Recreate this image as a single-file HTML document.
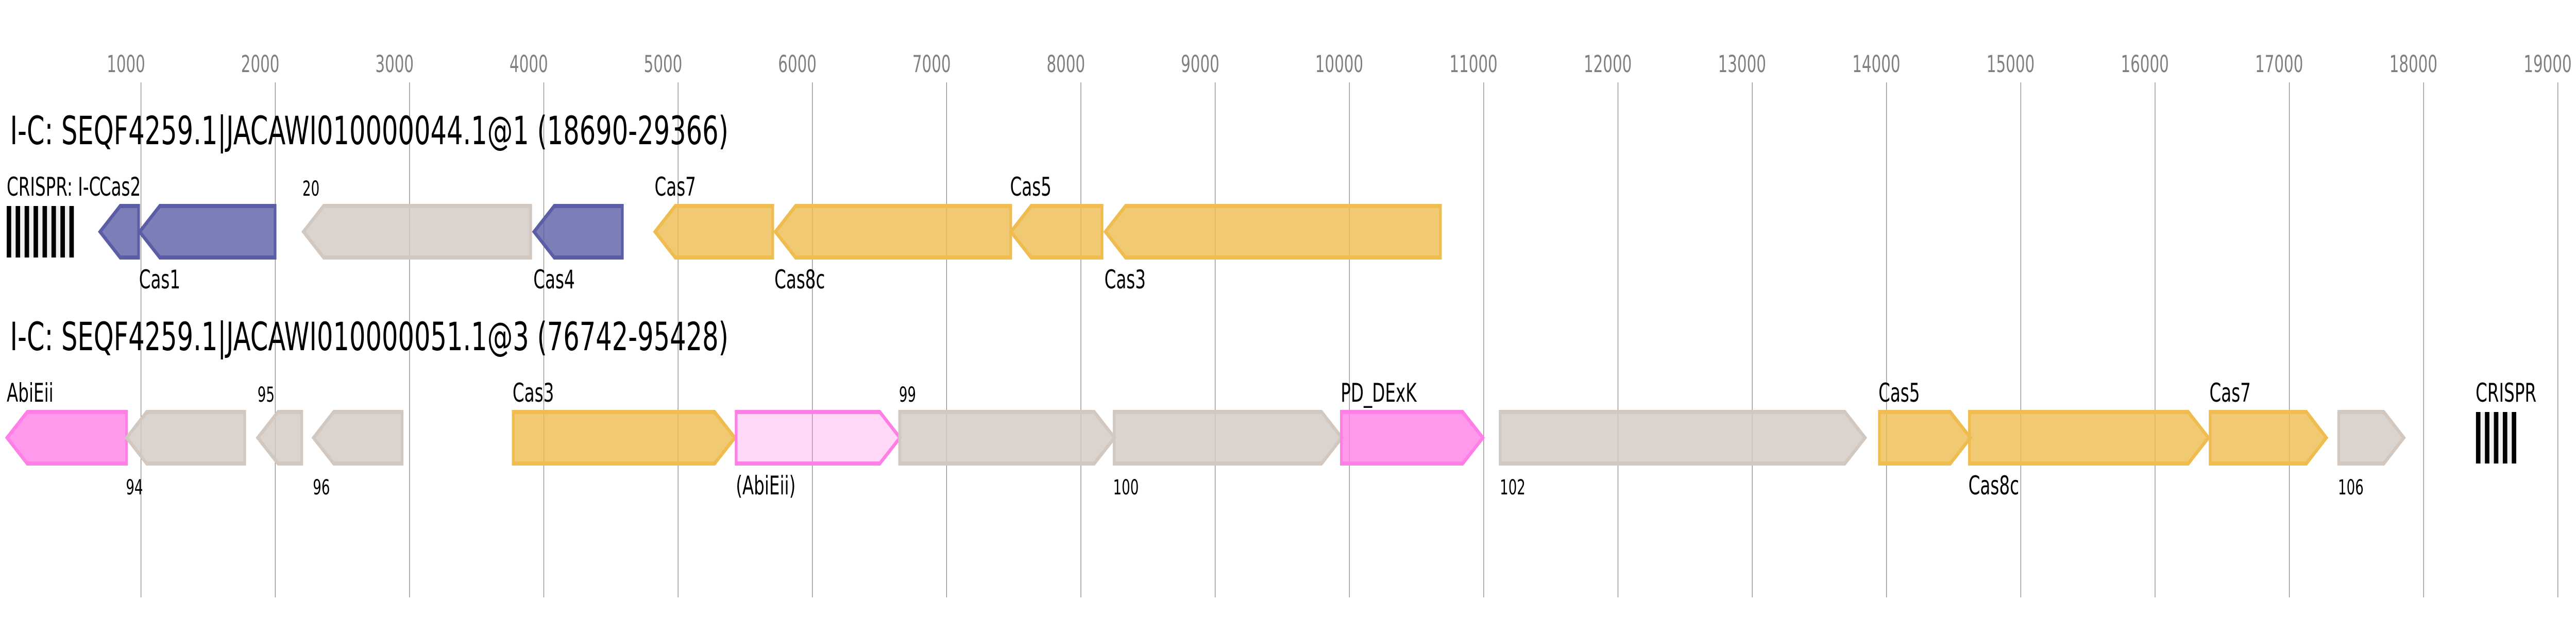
<!DOCTYPE html>
<html>
<head>
<meta charset="utf-8">
<style>
html,body{margin:0;padding:0;background:#fff;width:100%;height:100%;overflow:hidden}
svg{display:block;width:100vw;height:100vh}
text{font-family:"DejaVu Sans",sans-serif;fill:#000}
.tick{font-size:45px;fill:#808080}
.title{font-size:76px}
.lab{font-size:50px}
.num{font-size:40px}
.grid line{stroke:#888;stroke-width:2}
.g{stroke-width:8;fill-opacity:.8}
.b{stroke:#5b5ea6;fill:#5b5ea6}
.y{stroke:#eebc4f;fill:#eebc4f}
.n{stroke:#d2c8c0;fill:#d2c8c0}
.p{stroke:#ff7fe6;fill:#ff7fe6}
.q{stroke:#ff7fe6;fill:#ff7fe6;fill-opacity:.3}
</style>
</head>
<body>
<svg viewBox="0 0 7674 1200" preserveAspectRatio="none" xmlns="http://www.w3.org/2000/svg">
<rect width="7674" height="1200" fill="#fff"/>
<g class="grid">
<line x1="420" x2="420" y1="160" y2="1160"/><line x1="820" x2="820" y1="160" y2="1160"/><line x1="1220" x2="1220" y1="160" y2="1160"/><line x1="1620" x2="1620" y1="160" y2="1160"/><line x1="2020" x2="2020" y1="160" y2="1160"/><line x1="2420" x2="2420" y1="160" y2="1160"/><line x1="2820" x2="2820" y1="160" y2="1160"/><line x1="3220" x2="3220" y1="160" y2="1160"/><line x1="3620" x2="3620" y1="160" y2="1160"/><line x1="4020" x2="4020" y1="160" y2="1160"/><line x1="4420" x2="4420" y1="160" y2="1160"/><line x1="4820" x2="4820" y1="160" y2="1160"/><line x1="5220" x2="5220" y1="160" y2="1160"/><line x1="5620" x2="5620" y1="160" y2="1160"/><line x1="6020" x2="6020" y1="160" y2="1160"/><line x1="6420" x2="6420" y1="160" y2="1160"/><line x1="6820" x2="6820" y1="160" y2="1160"/><line x1="7220" x2="7220" y1="160" y2="1160"/><line x1="7620" x2="7620" y1="160" y2="1160"/>
</g>
<g>
<text class="tick" x="318" y="140">1000</text><text class="tick" x="718" y="140">2000</text><text class="tick" x="1118" y="140">3000</text><text class="tick" x="1518" y="140">4000</text><text class="tick" x="1918" y="140">5000</text><text class="tick" x="2318" y="140">6000</text><text class="tick" x="2718" y="140">7000</text><text class="tick" x="3118" y="140">8000</text><text class="tick" x="3518" y="140">9000</text><text class="tick" x="3918" y="140">10000</text><text class="tick" x="4318" y="140">11000</text><text class="tick" x="4718" y="140">12000</text><text class="tick" x="5118" y="140">13000</text><text class="tick" x="5518" y="140">14000</text><text class="tick" x="5918" y="140">15000</text><text class="tick" x="6318" y="140">16000</text><text class="tick" x="6718" y="140">17000</text><text class="tick" x="7118" y="140">18000</text><text class="tick" x="7518" y="140">19000</text>
</g>
<text class="title" x="30" y="280">I-C: SEQF4259.1|JACAWI010000044.1@1 (18690-29366)</text>
<text class="title" x="30" y="680">I-C: SEQF4259.1|JACAWI010000051.1@3 (76742-95428)</text>

<!-- CRISPR top -->
<rect x="20" y="400" width="200" height="100" fill="#f0f0f0"/>
<g fill="#000">
<rect x="20" y="400" width="13.33" height="100"/><rect x="46.67" y="400" width="13.33" height="100"/><rect x="73.33" y="400" width="13.33" height="100"/><rect x="100" y="400" width="13.33" height="100"/><rect x="126.67" y="400" width="13.33" height="100"/><rect x="153.33" y="400" width="13.33" height="100"/><rect x="180" y="400" width="13.33" height="100"/><rect x="206.67" y="400" width="13.33" height="100"/>
</g>
<!-- top genes -->
<polygon class="g b" points="413,400 358,400 298,450 358,500 413,500"/>
<polygon class="g b" points="819.500,400 476,400 416,450 476,500 819.500,500"/>
<polygon class="g n" points="1581,400 964,400 904,450 964,500 1581,500"/>
<polygon class="g b" points="1854,400 1651,400 1591,450 1651,500 1854,500"/>
<polygon class="g y" points="2302,400 2011.500,400 1951.500,450 2011.500,500 2302,500"/>
<polygon class="g y" points="3011,400 2370,400 2310,450 2370,500 3011,500"/>
<polygon class="g y" points="3283,400 3071.500,400 3011.500,450 3071.500,500 3283,500"/>
<polygon class="g y" points="4291,400 3353,400 3293,450 3353,500 4291,500"/>

<!-- bottom genes -->
<polygon class="g p" points="377,800 81,800 21,850 81,900 377,900"/>
<polygon class="g n" points="729,800 437,800 377.500,850 437,900 729,900"/>
<polygon class="g n" points="899,800 828,800 768,850 828,900 899,900"/>
<polygon class="g n" points="1198,800 994,800 934,850 994,900 1198,900"/>
<polygon class="g y" points="1529,800 2129,800 2189,850 2129,900 1529,900"/>
<polygon class="g q" points="2193,800 2621,800 2681,850 2621,900 2193,900"/>
<polygon class="g n" points="2680,800 3260,800 3320,850 3260,900 2680,900"/>
<polygon class="g n" points="3319,800 3937,800 3997,850 3937,900 3319,900"/>
<polygon class="g p" points="3996,800 4357.500,800 4417.500,850 4357.500,900 3996,900"/>
<polygon class="g n" points="4469,800 5496,800 5556,850 5496,900 4469,900"/>
<polygon class="g y" points="5599,800 5810,800 5870,850 5810,900 5599,900"/>
<polygon class="g y" points="5867,800 6519,800 6579,850 6519,900 5867,900"/>
<polygon class="g y" points="6584,800 6871,800 6930,850 6871,900 6584,900"/>
<polygon class="g n" points="6967,800 7101.500,800 7161,850 7101.500,900 6967,900"/>
<!-- CRISPR bottom -->
<rect x="7376" y="800" width="120" height="100" fill="#f0f0f0"/>
<g fill="#000">
<rect x="7376" y="800" width="13.33" height="100"/><rect x="7402.67" y="800" width="13.33" height="100"/><rect x="7429.33" y="800" width="13.33" height="100"/><rect x="7456" y="800" width="13.33" height="100"/><rect x="7482.67" y="800" width="13.33" height="100"/>
</g>

<!-- labels -->
<text class="lab" x="20" y="380">CRISPR: I-C</text>
<text class="lab" x="296" y="380">Cas2</text>
<text class="lab" x="414" y="560">Cas1</text>
<text class="num" x="901" y="380">20</text>
<text class="lab" x="1589" y="560">Cas4</text>
<text class="lab" x="1950" y="380">Cas7</text>
<text class="lab" x="2307" y="560">Cas8c</text>
<text class="lab" x="3009" y="380">Cas5</text>
<text class="lab" x="3290" y="560">Cas3</text>

<text class="lab" x="20" y="780">AbiEii</text>
<text class="num" x="375" y="960">94</text>
<text class="num" x="767" y="780">95</text>
<text class="num" x="932" y="960">96</text>
<text class="lab" x="1527" y="780">Cas3</text>
<text class="lab" x="2192" y="960">(AbiEii)</text>
<text class="num" x="2678" y="780">99</text>
<text class="num" x="3316" y="960">100</text>
<text class="lab" x="3994" y="780">PD_DExK</text>
<text class="num" x="4468" y="960">102</text>
<text class="lab" x="5596" y="780">Cas5</text>
<text class="lab" x="5864" y="960">Cas8c</text>
<text class="lab" x="6582" y="780">Cas7</text>
<text class="num" x="6965" y="960">106</text>
<text class="lab" x="7375" y="780">CRISPR</text>
</svg>
</body>
</html>
